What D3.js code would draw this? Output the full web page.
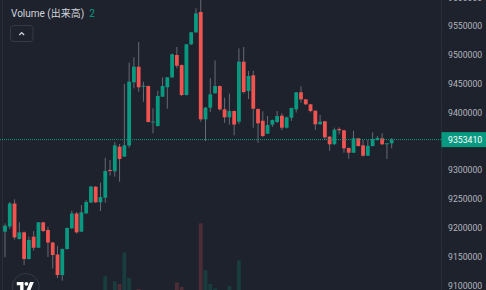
<!DOCTYPE html>
<html>
<head>
<meta charset="utf-8">
<script src="https://cdnjs.cloudflare.com/ajax/libs/d3/7.8.5/d3.min.js"></script>
<style>
html, body { margin: 0; padding: 0; background: #1e222d; overflow: hidden; }
</style>
</head>
<body>
<div id="chart"></div>
<script>
// OHLC per bar (JPY)
var opens = [9193700, 9202700, 9242600, 9181000, 9192600, 9146300, 9185000, 9165900, 9210000, 9196600,
	9174900, 9154100, 9118500, 9163600, 9199600, 9225200, 9193700, 9225600, 9244300, 9271700,
	9244700, 9252600, 9300700, 9298400, 9341100, 9324100, 9343200, 9452800, 9479900, 9445900,
	9446400, 9383400, 9377000, 9427800, 9444200, 9461500, 9500200, 9482800, 9430800, 9518800,
	9539600, 9574800, 9388600, 9408800, 9433700, 9446400, 9406000, 9392100, 9403000, 9384500,
	9488600, 9437700, 9465000, 9406500, 9386200, 9363700, 9379300, 9384000, 9394900, 9374100,
	9391400, 9406000, 9435500, 9423300, 9414700, 9403600, 9380000, 9385200, 9358500, 9345300,
	9371800, 9369600, 9338900, 9330700, 9355700, 9343500, 9325500, 9342300, 9352700, 9355700,
	9345300, 9347000];
var highs = [9208200, 9245200, 9249900, 9210000, 9194000, 9185300, 9194900, 9210500, 9210500, 9202300,
	9175800, 9168800, 9164500, 9200900, 9230100, 9227800, 9240000, 9248600, 9272900, 9272900,
	9278700, 9322000, 9318000, 9349300, 9345800, 9449900, 9486800, 9496200, 9522700, 9453900,
	9447300, 9407700, 9438300, 9461500, 9462000, 9502800, 9514100, 9483700, 9519300, 9540100,
	9581200, 9596000, 9410000, 9459800, 9491000, 9447300, 9426100, 9433100, 9403900, 9511800,
	9514100, 9472400, 9473000, 9407400, 9402500, 9394400, 9388300, 9403000, 9399100, 9393500,
	9409100, 9436000, 9445900, 9423900, 9415200, 9403900, 9396100, 9385700, 9359700, 9374100,
	9374800, 9370100, 9339700, 9368900, 9356200, 9352700, 9352700, 9366100, 9359700, 9364400,
	9347500, 9356200];
var lows = [9149200, 9198300, 9180100, 9180100, 9135900, 9145400, 9161000, 9165400, 9193100, 9149800,
	9129800, 9113300, 9108600, 9162800, 9198300, 9190500, 9193100, 9224400, 9243400, 9243400,
	9229600, 9244000, 9291100, 9289400, 9280400, 9323200, 9339400, 9442400, 9436500, 9419200,
	9383100, 9364400, 9376200, 9427300, 9407000, 9460300, 9477100, 9429100, 9429900, 9517500,
	9538400, 9384500, 9351000, 9401300, 9433400, 9403600, 9382700, 9379300, 9360900, 9380500,
	9433400, 9423900, 9374100, 9348000, 9357900, 9363100, 9375300, 9382200, 9370100, 9372700,
	9385700, 9400400, 9417400, 9413500, 9400800, 9370100, 9379600, 9352700, 9334200, 9344900,
	9362600, 9330700, 9320300, 9330200, 9341500, 9323800, 9325000, 9341500, 9351900, 9344100,
	9319800, 9338300];
var closes = [9204100, 9242600, 9183900, 9192600, 9146300, 9179300, 9165900, 9210000, 9194900, 9174900,
	9153200, 9118500, 9163600, 9200100, 9225200, 9192600, 9227300, 9245200, 9272100, 9244700,
	9253800, 9299000, 9299000, 9343500, 9319800, 9343500, 9453900, 9479900, 9444200, 9446900,
	9384000, 9384800, 9429100, 9446400, 9461500, 9501400, 9481600, 9430800, 9518800, 9539600,
	9572500, 9388600, 9408800, 9432000, 9446400, 9406000, 9392100, 9403000, 9379600, 9488600,
	9436000, 9463800, 9407000, 9381700, 9359700, 9378800, 9387400, 9394400, 9374100, 9392100,
	9408200, 9435500, 9423300, 9414700, 9403000, 9380000, 9384500, 9357400, 9345300, 9370600,
	9369600, 9338300, 9330700, 9355700, 9342300, 9325500, 9342800, 9354500, 9356200, 9345300,
	9347000, 9353410];
var volumes = [5, 8, 9, 4, 7, 6, 3, 6, 4, 5,
	6, 9, 8, 7, 6, 5, 7, 8, 9, 6,
	10, 40, 6, 29, 24, 87, 36, 9, 14, 5,
	10, 8, 9, 7, 6, 8, 27, 18, 9, 7,
	10, 145, 52, 24, 15, 8, 10, 20, 8, 71,
	9, 7, 10, 8, 6, 5, 4, 6, 7, 5,
	6, 8, 5, 4, 6, 7, 5, 8, 6, 5,
	4, 6, 7, 5, 4, 6, 5, 4, 3, 5,
	4, 2];
var price_ticks = [9600000, 9550000, 9500000, 9450000, 9400000, 9300000, 9250000, 9200000, 9150000, 9100000];
var legend_title = 'Volume (出来高)';
var legend_value = '2';


// layout
var chart_width  = 486;
var chart_height = 290;
var pane_right   = 441.5;
var up_color     = '#089981';
var down_color   = '#f05350';
var wick_color   = '#676a74';
var font         = 'Roboto, "Noto Sans CJK JP", sans-serif';

var svg = d3.select('#chart')
	.append('svg')
	.attr('width', chart_width)
	.attr('height', chart_height)
	.style('display', 'block');

svg.append('rect')
	.attr('width', chart_width)
	.attr('height', chart_height)
	.attr('fill', '#1e222d');


// scales
var x_scale = d3.scaleLinear()
	.domain([0, opens.length - 1])
	.range([5, 391.7]);

var y_scale = d3.scaleLinear()
	.domain([9100000, 9550000])
	.range([285.7, 26.3]);

var v_scale = d3.scaleLinear()
	.domain([0, d3.max(volumes)])
	.range([296, 223.3]);

var body_w = 3.8;
var idx = d3.range(opens.length);


// pane borders
svg.append('line')
	.attr('x1', 2.5).attr('x2', 2.5)
	.attr('y1', 0).attr('y2', chart_height)
	.attr('stroke', '#2a2e39');
svg.append('line')
	.attr('x1', pane_right).attr('x2', pane_right)
	.attr('y1', 0).attr('y2', chart_height)
	.attr('stroke', '#2a2e39');


// volume bars
svg.append('g')
	.selectAll('rect')
	.data(idx)
	.enter()
	.append('rect')
	.attr('x', function(i){ return x_scale(i) - body_w / 2; })
	.attr('y', function(i){ return v_scale(volumes[i]); })
	.attr('width', body_w)
	.attr('height', function(i){ return v_scale(0) - v_scale(volumes[i]); })
	.attr('fill', function(i){ return closes[i] >= opens[i] ? up_color : down_color; })
	.attr('opacity', 0.22);


// wicks
svg.append('g')
	.selectAll('line')
	.data(idx)
	.enter()
	.append('line')
	.attr('x1', function(i){ return x_scale(i); })
	.attr('x2', function(i){ return x_scale(i); })
	.attr('y1', function(i){ return y_scale(highs[i]); })
	.attr('y2', function(i){ return y_scale(lows[i]); })
	.attr('stroke', wick_color)
	.attr('stroke-width', 1);


// bodies
svg.append('g')
	.selectAll('rect')
	.data(idx)
	.enter()
	.append('rect')
	.attr('x', function(i){ return x_scale(i) - body_w / 2; })
	.attr('y', function(i){ return y_scale(Math.max(opens[i], closes[i])); })
	.attr('width', body_w)
	.attr('height', function(i){
		return Math.max(1, Math.abs(y_scale(opens[i]) - y_scale(closes[i])));
	})
	.attr('fill', function(i){ return closes[i] >= opens[i] ? up_color : down_color; });


// last price line + label
var last = closes[closes.length - 1];
svg.append('line')
	.attr('x1', 0).attr('x2', pane_right)
	.attr('y1', y_scale(last)).attr('y2', y_scale(last))
	.attr('stroke', up_color)
	.attr('stroke-dasharray', '1,1');

// price axis labels
svg.append('g')
	.selectAll('text')
	.data(price_ticks)
	.enter()
	.append('text')
	.text(function(d){ return d; })
	.attr('x', 448)
	.attr('y', function(d){ return y_scale(d); })
	.attr('dy', '0.35em')
	.attr('font-family', font)
	.attr('font-size', 8.7)
	.attr('fill', '#b2b5be');

svg.append('rect')
	.attr('x', pane_right)
	.attr('y', y_scale(last) - 7.5)
	.attr('width', chart_width - pane_right)
	.attr('height', 15)
	.attr('fill', up_color);
svg.append('text')
	.text(last)
	.attr('x', 448)
	.attr('y', y_scale(last))
	.attr('dy', '0.35em')
	.attr('font-family', font)
	.attr('font-size', 8.7)
	.attr('fill', '#ffffff');


// legend
var legend = svg.append('text')
	.attr('x', 11)
	.attr('y', 17.3)
	.attr('font-family', font)
	.attr('font-size', 10)
	.attr('fill', '#d1d4dc');
legend.append('tspan').text(legend_title);
legend.append('tspan').attr('dx', 5).attr('fill', up_color).text(legend_value);

svg.append('rect')
	.attr('x', 10.5).attr('y', 25.5)
	.attr('width', 22.5).attr('height', 16)
	.attr('rx', 3)
	.attr('fill', 'none')
	.attr('stroke', '#363a45');
svg.append('path')
	.attr('d', 'M19.3,35 L21.7,32.6 L24.1,35')
	.attr('fill', 'none')
	.attr('stroke', '#d1d4dc')
	.attr('stroke-width', 1.3);


// logo
svg.append('circle')
	.attr('cx', 25.7).attr('cy', 287)
	.attr('r', 13.5)
	.attr('fill', '#1e222d')
	.attr('stroke', '#363a45');
var logo = svg.append('g')
	.attr('transform', 'translate(16.8,280) scale(0.48)')
	.attr('fill', '#ffffff');
logo.append('path').attr('d', 'M14 22H7V11H0V4h14v18zM28 22h-8l7.5-18h8L28 22z');
logo.append('circle').attr('cx', 20).attr('cy', 8).attr('r', 4);
</script>
</body>
</html>
